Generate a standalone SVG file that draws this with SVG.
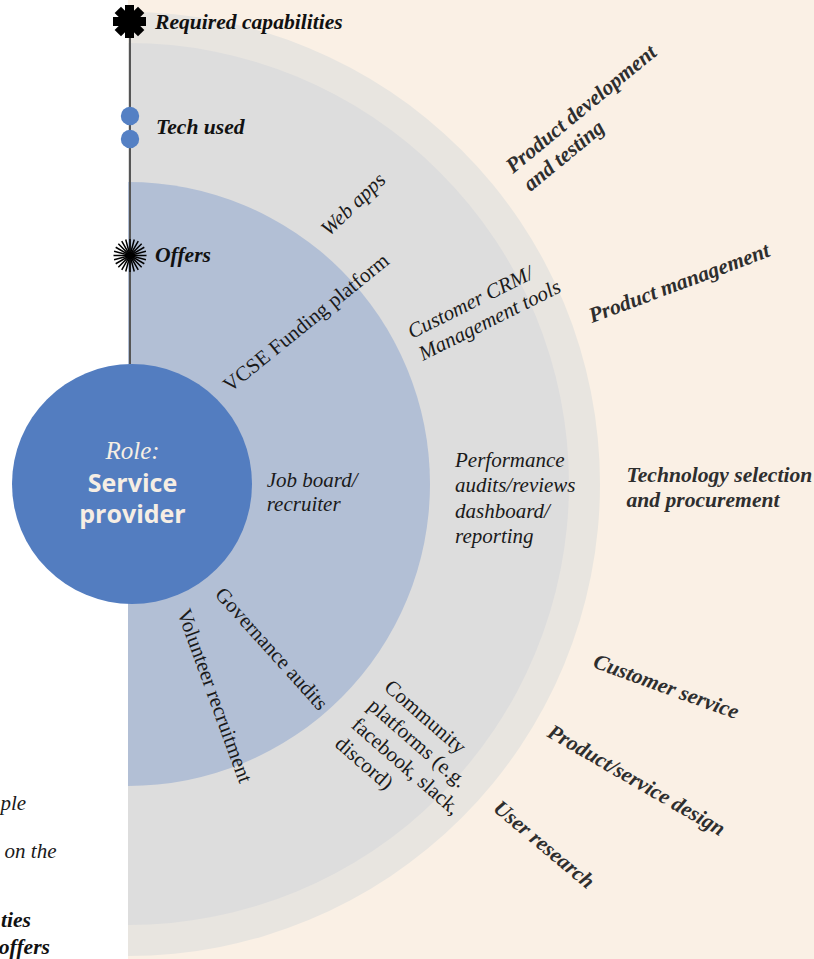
<svg xmlns="http://www.w3.org/2000/svg" width="814" height="959" viewBox="0 0 814 959">
<style>
.lbl{font-family:"Liberation Serif",serif;font-size:21px;fill:#1a1a1a}
.it{font-style:italic}
.cap{font-family:"Liberation Serif",serif;font-size:21.6px;font-weight:bold;font-style:italic;fill:#2e2e2e}
.leg{font-family:"Liberation Serif",serif;font-size:21.6px;font-weight:bold;font-style:italic;fill:#111}
.ray{stroke:#000;stroke-width:1.5;fill:none}
</style>
<rect x="0" y="0" width="814" height="959" fill="#ffffff"/>
<rect x="128" y="0" width="686" height="959" fill="#FAF0E5"/>
<g id="rings">
<path d="M128,12 A472,472 0 0,1 128,956 Z" fill="#E8E5E0"/>
<path d="M128,43 A441,441 0 0,1 128,925 Z" fill="#DDDDDD"/>
<path d="M128,182 A302,302 0 0,1 128,786 Z" fill="#B2BFD5"/>
</g>
<g id="connectors">
<line x1="130" y1="21" x2="130" y2="364" stroke="#555" stroke-width="2"/>
</g>
<g id="legend-required">
<g transform="translate(129.5,21.5)" fill="#000">
<rect x="-4.5" y="-16.5" width="9" height="33"/>
<rect x="-4.5" y="-16.5" width="9" height="33" transform="rotate(45)"/>
<rect x="-4.5" y="-16.5" width="9" height="33" transform="rotate(90)"/>
<rect x="-4.5" y="-16.5" width="9" height="33" transform="rotate(135)"/>
<circle r="8"/>
</g>
<text class="leg" x="155" y="29">Required capabilities</text>
</g>
<g id="legend-tech">
<circle cx="130" cy="116" r="9.2" fill="#5480C4"/>
<circle cx="130" cy="139" r="9.2" fill="#5480C4"/>
<text class="leg" x="156" y="134">Tech used</text>
</g>
<g id="legend-offers">
<g transform="translate(130,255.5)">
<path class="ray" d="M-16.5,0H16.5M0,-16.5V16.5"/>
<path class="ray" d="M-16.5,0H16.5M0,-16.5V16.5" transform="rotate(15)"/>
<path class="ray" d="M-16.5,0H16.5M0,-16.5V16.5" transform="rotate(30)"/>
<path class="ray" d="M-16.5,0H16.5M0,-16.5V16.5" transform="rotate(45)"/>
<path class="ray" d="M-16.5,0H16.5M0,-16.5V16.5" transform="rotate(60)"/>
<path class="ray" d="M-16.5,0H16.5M0,-16.5V16.5" transform="rotate(75)"/>
<circle r="3" fill="#000"/>
</g>
<text class="leg" x="155" y="262">Offers</text>
</g>
<g id="role">
<circle cx="132" cy="484" r="120" fill="#537DC0"/>
<text x="132.5" y="459" text-anchor="middle" font-family="Liberation Serif, serif" font-style="italic" font-size="25" fill="#F6EEE4">Role:</text>
<text x="132.5" y="492" text-anchor="middle" font-family="Open Sans, sans-serif" font-weight="700" font-size="25" fill="#F6EEE4">Service</text>
<text x="132.5" y="523" text-anchor="middle" font-family="Open Sans, sans-serif" font-weight="700" font-size="25" fill="#F6EEE4">provider</text>
</g>
<g id="offers">
<text class="lbl" font-size="21.6" transform="translate(230,393) rotate(-39)">VCSE Funding platform</text>
<text class="lbl it" x="266.7" y="487">Job board/<tspan x="266.7" dy="24">recruiter</tspan></text>
<text class="lbl" transform="translate(214,595) rotate(48)">Governance audits</text>
<text class="lbl" transform="translate(177,612) rotate(70)">Volunteer recruitment</text>
</g>
<g id="tech">
<text class="lbl it" transform="translate(329,237) rotate(-44)">Web apps</text>
<text class="lbl it" transform="translate(412,339) rotate(-26.5)">Customer CRM/<tspan x="0" dy="24.5">Management tools</tspan></text>
<text class="lbl it" x="455" y="467">Performance<tspan x="455" dy="25.3">audits/reviews</tspan><tspan x="455" dy="25.3">dashboard/</tspan><tspan x="455" dy="25.3">reporting</tspan></text>
<text class="lbl" transform="translate(383,689) rotate(41)">Community<tspan x="0" dy="25">platforms (e.g.</tspan><tspan x="0" dy="25">facebook, slack,</tspan><tspan x="0" dy="25">discord)</tspan></text>
</g>
<g id="capabilities">
<text class="cap" transform="translate(513,174) rotate(-39.5)">Product development<tspan x="2" dy="25">and testing</tspan></text>
<text class="cap" transform="translate(592,323) rotate(-20.5)">Product management</text>
<text class="cap" x="626.5" y="482">Technology selection<tspan x="626.5" dy="25">and procurement</tspan></text>
<text class="cap" transform="translate(592,667) rotate(20)">Customer service</text>
<text class="cap" transform="translate(546,736) rotate(30)">Product/service design</text>
<text class="cap" transform="translate(492,810) rotate(40)">User research</text>
</g>
<g id="side-note">
<text class="lbl it" x="0.5" y="810">ple</text>
<text class="lbl it" x="56.5" y="858" text-anchor="end">on the</text>
<text class="leg" x="31" y="927" text-anchor="end">ties</text>
<text class="leg" x="50" y="954" text-anchor="end">offers</text>
</g>
</svg>
